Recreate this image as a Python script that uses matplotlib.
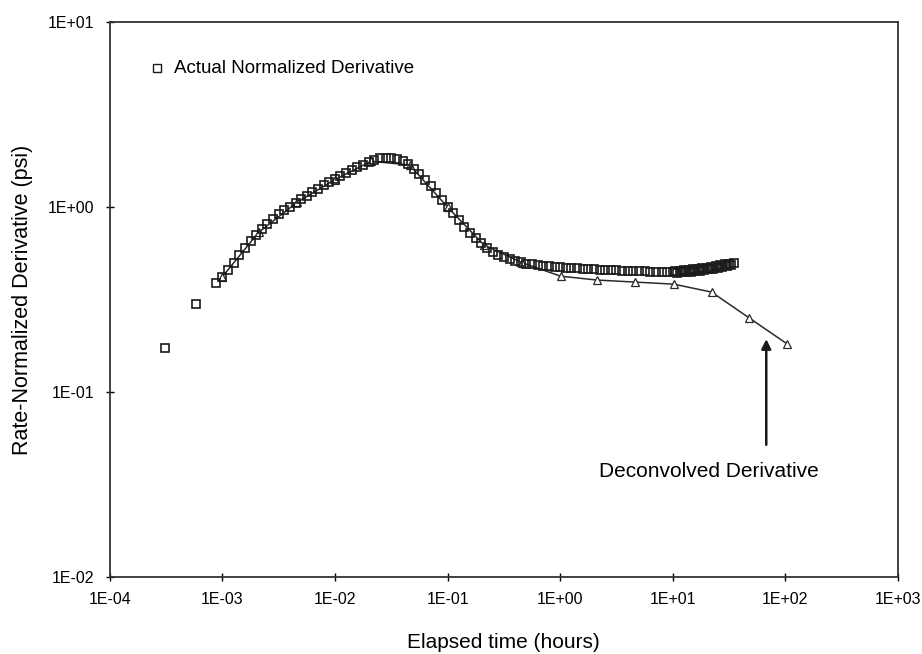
import numpy as np
import matplotlib.pyplot as plt
from matplotlib.ticker import FuncFormatter, FixedLocator, NullLocator

plt.rcParams['font.family'] = ['Liberation Sans', 'DejaVu Sans']

# Actual normalized derivative (hours, psi)
t_actual = [3.09e-4, 5.79e-4, 8.70e-4,
            1.00e-3, 1.12e-3, 1.26e-3, 1.41e-3, 1.58e-3, 1.78e-3, 2.00e-3, 2.24e-3, 2.51e-3, 2.82e-3,
            3.16e-3, 3.55e-3, 3.98e-3, 4.47e-3, 5.01e-3, 5.62e-3, 6.31e-3, 7.08e-3, 7.94e-3, 8.91e-3,
            1.00e-2, 1.12e-2, 1.26e-2, 1.41e-2, 1.58e-2, 1.78e-2, 2.00e-2, 2.24e-2, 2.51e-2, 2.82e-2,
            3.16e-2, 3.55e-2, 3.98e-2, 4.47e-2, 5.01e-2, 5.62e-2, 6.31e-2, 7.08e-2, 7.94e-2, 8.91e-2,
            0.100, 0.112, 0.126, 0.141, 0.158, 0.178, 0.200, 0.224, 0.251, 0.282,
            0.316, 0.355, 0.398, 0.447, 0.501, 0.562, 0.631, 0.708, 0.794, 0.891,
            1.00, 1.12, 1.26, 1.41, 1.58, 1.78, 2.00, 2.24, 2.51, 2.82,
            3.16, 3.55, 3.98, 4.47, 5.01, 5.62, 6.31, 7.08, 7.94, 8.91,
            10.0, 10.5, 11.0, 11.5, 12.0, 12.6, 13.2, 13.8, 14.5, 15.1,
            15.8, 16.6, 17.4, 18.2, 19.1, 20.0, 20.9, 21.9, 22.9, 24.0,
            25.1, 26.3, 27.5, 28.8, 30.2, 31.6, 33.1, 34.7]
d_actual = [0.173, 0.299, 0.388,
            0.417, 0.457, 0.501, 0.550, 0.603, 0.653, 0.708, 0.759, 0.813, 0.861,
            0.912, 0.959, 1.007, 1.052, 1.102, 1.153, 1.208, 1.259, 1.312, 1.365,
            1.413, 1.466, 1.521, 1.585, 1.641, 1.698, 1.750, 1.799, 1.832, 1.854,
            1.854, 1.828, 1.778, 1.706, 1.614, 1.514, 1.406, 1.297, 1.194, 1.096,
            1.007, 0.925, 0.851, 0.785, 0.728, 0.679, 0.638, 0.603, 0.575, 0.553,
            0.536, 0.521, 0.511, 0.502, 0.495, 0.490, 0.485, 0.481, 0.478, 0.474,
            0.472, 0.470, 0.468, 0.466, 0.464, 0.462, 0.460, 0.459, 0.457, 0.455,
            0.454, 0.453, 0.452, 0.451, 0.450, 0.449, 0.448, 0.447, 0.446, 0.446,
            0.446, 0.452, 0.440, 0.450, 0.443, 0.455, 0.445, 0.457, 0.447, 0.460,
            0.450, 0.463, 0.453, 0.467, 0.456, 0.471, 0.460, 0.476, 0.465, 0.481,
            0.470, 0.486, 0.475, 0.491, 0.480, 0.495, 0.485, 0.498]

# Deconvolved derivative
t_deconv = [1.00e-3, 2.10e-3, 4.60e-3, 1.00e-2, 2.10e-2, 4.60e-2, 0.100, 0.210,
            0.460, 1.01, 2.13, 4.62, 10.2, 22.1, 47.9, 103.5]
d_deconv = [0.420, 0.730, 1.060, 1.410, 1.770, 1.690, 1.000, 0.625,
            0.500, 0.423, 0.403, 0.393, 0.383, 0.347, 0.251, 0.182]

# axis decades
x_ticks = [1e-4, 1e-3, 1e-2, 1e-1, 1e0, 1e1, 1e2, 1e3]
y_ticks = [1e-2, 1e-1, 1e0, 1e1]

fig, ax = plt.subplots(figsize=(9.22, 6.54), dpi=100)
fig.subplots_adjust(left=0.119, right=0.974, top=0.966, bottom=0.118)

ax.plot(t_deconv, d_deconv, '-', color='#2a2a2a', lw=1.1, marker='^',
        markersize=6, markerfacecolor='white', markeredgecolor='#2a2a2a',
        markeredgewidth=0.9, zorder=2)
ax.plot(t_actual, d_actual, 's', markersize=6, markerfacecolor='none',
        markeredgecolor='#1a1a1a', markeredgewidth=1.2, zorder=3)

ax.set_xscale('log')
ax.set_yscale('log')
ax.set_xlim(x_ticks[0], x_ticks[-1])
ax.set_ylim(y_ticks[0], y_ticks[-1])

fmt = FuncFormatter(lambda v, p: f'1E{int(round(np.log10(v))):+03d}')
ax.xaxis.set_major_locator(FixedLocator(x_ticks))
ax.yaxis.set_major_locator(FixedLocator(y_ticks))
for axis in (ax.xaxis, ax.yaxis):
    axis.set_minor_locator(NullLocator())
    axis.set_major_formatter(fmt)
ax.tick_params(direction='inout', length=6, width=1.0, labelsize=11.5, pad=8)

for s in ax.spines.values():
    s.set_linewidth(1.3)
    s.set_color('#333333')

ax.set_xlabel('Elapsed time (hours)', fontsize=15, labelpad=19)
ax.set_ylabel('Rate-Normalized Derivative (psi)', fontsize=15.5, labelpad=11)

# hand-drawn legend entry
ax.plot([0.060], [0.917], 's', transform=ax.transAxes, markersize=5.5,
        markerfacecolor='none', markeredgecolor='#1a1a1a', markeredgewidth=1.0)
ax.text(0.081, 0.917, 'Actual Normalized Derivative', transform=ax.transAxes,
        fontsize=13.5, va='center', ha='left')

ax.annotate('', xy=(67.6, 0.20), xytext=(67.6, 0.0500),
            arrowprops=dict(arrowstyle='-|>', color='#1a1a1a', lw=1.8,
                            mutation_scale=14))
ax.text(20.8, 0.037, 'Deconvolved Derivative', fontsize=15, ha='center', va='center')

fig.savefig('out.png', dpi=100)
